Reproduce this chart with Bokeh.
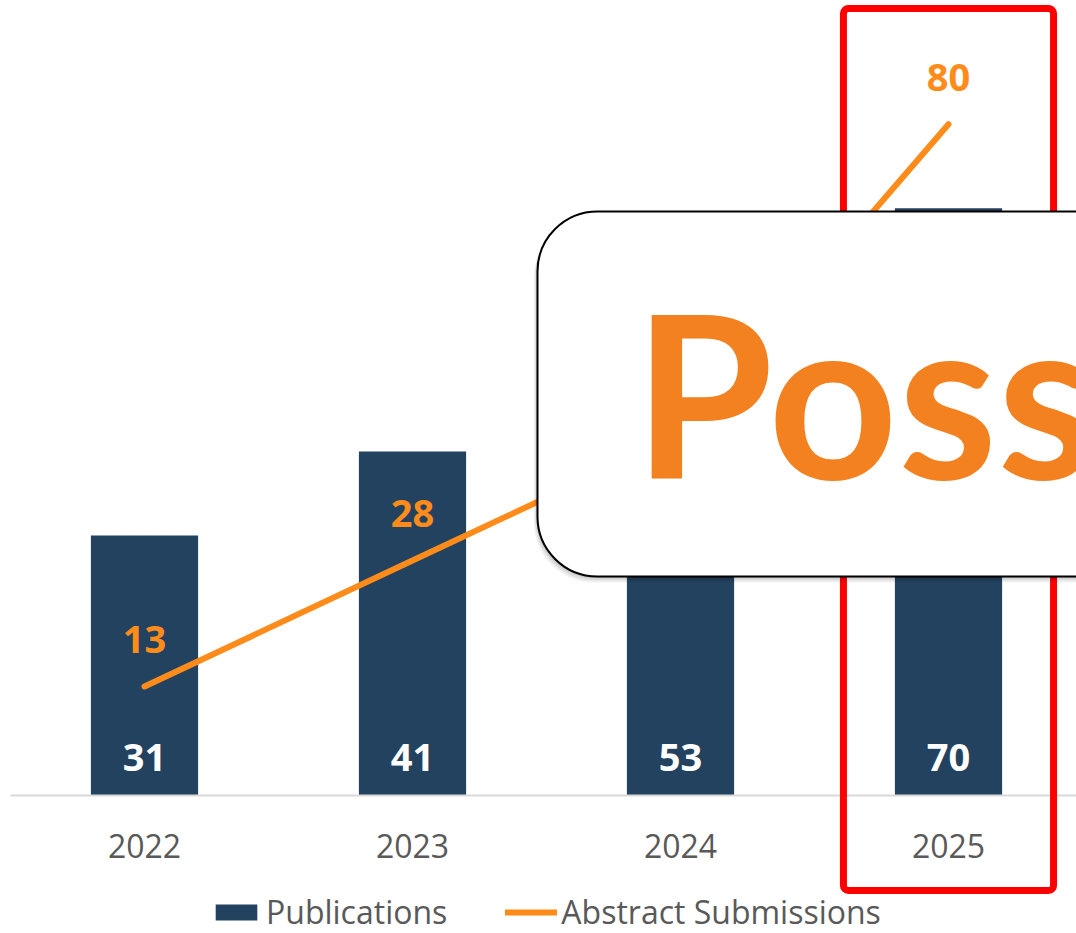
from bokeh.plotting import figure
from bokeh.models import (Range1d, FixedTicker, BoxAnnotation, Label, Legend,
                          LegendItem, ColumnDataSource)
from bokeh.core.properties import value
from bokeh.embed import file_html
from bokeh.resources import INLINE

# ---- data ----
years = ["2022", "2023", "2024", "2025"]
publications = [31, 41, 53, 70]
abstracts = [13, 28, 43, 80]
callout_text = "Poss"

# ---- styling ----
BAR = "#234260"
ORANGE = "#FF8C1A"
GRAY = "#595959"

W, H = 1076, 933
PX_X = 268.0          # pixels per category
PX_Y = 8.39           # pixels per unit
X0 = -144.0 / PX_X    # left edge of frame in data units
Y_TOP = 795.0 / PX_Y  # top of frame in data units (baseline at 795px)

def dx(px):
    return X0 + px / PX_X

def dy(py):
    return Y_TOP - py / PX_Y

xpos = list(range(len(years)))

src = ColumnDataSource(dict(
    x=xpos, pub=publications, abs=abstracts,
    zero=[0] * len(xpos),
    pub_lbl=[str(v) for v in publications],
    abs_lbl=[str(v) for v in abstracts],
))

p = figure(width=W, height=H, output_backend="svg", toolbar_location=None,
           x_range=Range1d(X0, X0 + W / PX_X),
           y_range=Range1d(Y_TOP - H / PX_Y, Y_TOP),
           min_border=0, outline_line_color=None, y_axis_location=None,
           background_fill_color="white", border_fill_color="white")
p.grid.visible = False

r_bar = p.vbar(x="x", top="pub", width=0.4, source=src, fill_color=BAR,
               line_color=None)
r_line = p.line(x="x", y="abs", source=src, line_width=6, line_color=ORANGE,
                line_cap="round", line_join="round")

p.text(x="x", y="zero", text="pub_lbl", source=src, y_offset=-38,
       text_align="center", text_baseline="middle", text_color="white",
       text_font=value("Open Sans"), text_font_style="bold",
       text_font_size="38px")
p.text(x="x", y="abs", text="abs_lbl", source=src, y_offset=-47,
       text_align="center", text_baseline="middle", text_color=ORANGE,
       text_font=value("Open Sans"), text_font_style="bold",
       text_font_size="38px")

ax = p.xaxis[0]
ax.fixed_location = 0
ax.bounds = (-0.5, len(years) - 0.5)
ax.ticker = FixedTicker(ticks=xpos)
ax.major_label_overrides = {i: y for i, y in enumerate(years)}
ax.major_tick_line_color = None
ax.minor_tick_line_color = None
ax.axis_line_color = "#D9D9D9"
ax.axis_line_width = 2
ax.major_label_text_font = "Open Sans"
ax.major_label_text_font_size = "32px"
ax.major_label_text_color = GRAY
ax.major_label_standoff = 32

legend = Legend(items=[LegendItem(label="Publications", renderers=[r_bar]),
                       LegendItem(label="Abstract Submissions", renderers=[r_line])],
                orientation="horizontal", location=(210, 0), padding=0,
                margin=0, spacing=58, label_standoff=4, glyph_width=52,
                glyph_height=20, label_text_font="Open Sans",
                label_text_font_size="32px", label_text_color=GRAY,
                background_fill_alpha=0, border_line_color=None)
p.add_layout(legend)

# red highlight around last column
hl = len(years) - 1
p.add_layout(BoxAnnotation(left=hl - 0.392, right=hl + 0.392,
                           top=dy(8), bottom=dy(890),
                           fill_color=None, fill_alpha=0,
                           line_color="#FF0000", line_alpha=1, line_width=7,
                           border_radius=5))

# callout box with shadow
for off, a in [(6, 0.06), (4, 0.08), (2, 0.10)]:
    p.add_layout(BoxAnnotation(left=dx(537 - off * 0.6), right=dx(1300),
                               top=dy(211 + off), bottom=dy(576 + off),
                               fill_color="black", fill_alpha=a,
                               line_color=None, border_radius=60))
p.add_layout(BoxAnnotation(left=dx(537), right=dx(1300), top=dy(211),
                           bottom=dy(576), fill_color="white", fill_alpha=1,
                           line_color="black", line_alpha=1, line_width=2,
                           border_radius=60))
p.add_layout(Label(x=dx(633), y=dy(391), text=callout_text, text_font="Lato",
                   text_font_style="bold", text_font_size="226px",
                   text_color="#F4811F", text_align="left",
                   text_baseline="alphabetic"))

open("out.html", "w").write(file_html(p, INLINE))
